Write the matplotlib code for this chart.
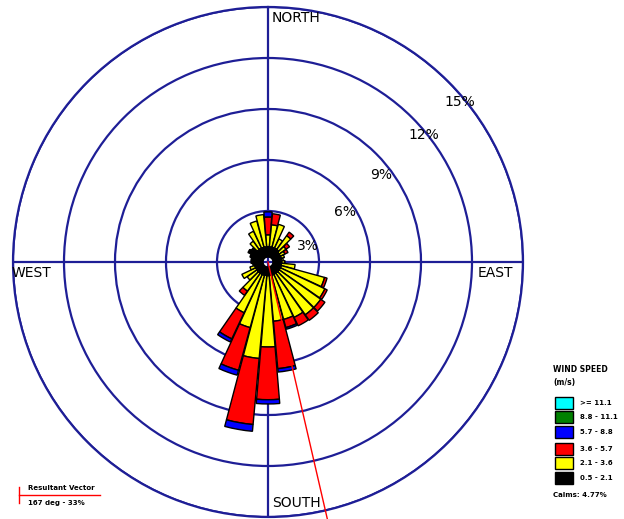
import numpy as np
import matplotlib
matplotlib.use("Agg")
import matplotlib.pyplot as plt
from matplotlib.patches import Rectangle
from matplotlib.lines import Line2D

# ---------------- data ----------------
directions = np.arange(0, 360, 10)  # degrees, wind blowing from
calm_radius = 0.3  # % (white calm hole in the middle)
calms_pct = 4.77
resultant_dir = 167
resultant_label = "167 deg - 33%"

# frequency (%) of each speed class per direction
f_05_21 = [0.6, 0.6, 0.6, 0.6, 0.6, 0.5, 0.5, 0.5, 0.5, 0.5, 0.5, 0.5,
           0.5, 0.5, 0.5, 0.5, 0.5, 0.5, 0.5, 0.5, 0.5, 0.5, 0.5, 0.5,
           0.5, 0.5, 0.6, 0.7, 0.7, 0.8, 1.0, 0.9, 0.6, 0.6, 0.6, 0.6]
f_21_36 = [0.7, 1.3, 1.4, 0.6, 1.0, 0.5, 0.3, 0.2, 0.1, 0.2, 0.8, 2.65,
           2.9, 3.0, 3.0, 2.8, 2.7, 2.7, 4.2, 4.9, 3.2, 2.5, 1.3, 0.7,
           0.9, 0.3, 0.0, 0.0, 0.0, 0.0, 0.0, 0.0, 0.6, 1.1, 1.6, 1.9]
f_36_57 = [1.05, 0.65, 0.0, 0.0, 0.25, 0.25, 0.2, 0.0, 0.0, 0.0, 0.0, 0.15,
           0.15, 0.3, 0.4, 0.55, 0.5, 2.8, 3.1, 3.9, 2.6, 1.7, 0.3, 0.0,
           0.0, 0.0, 0.0, 0.0, 0.0, 0.0, 0.0, 0.0, 0.0, 0.0, 0.0, 0.0]
f_57_88 = [0.3, 0.0, 0.0, 0.0, 0.0, 0.0, 0.0, 0.0, 0.0, 0.0, 0.0, 0.0,
           0.0, 0.0, 0.0, 0.0, 0.1, 0.2, 0.25, 0.4, 0.3, 0.2, 0.0, 0.0,
           0.0, 0.0, 0.0, 0.0, 0.0, 0.0, 0.0, 0.0, 0.0, 0.0, 0.0, 0.0]
f_88_111 = [0.0] * 36
f_ge_111 = [0.0] * 36

classes = [f_05_21, f_21_36, f_36_57, f_57_88, f_88_111, f_ge_111]
class_colors = ["#000000", "#ffff00", "#ff0000", "#0000ff", "#008000", "#00ffff"]
legend_labels = [">= 11.1", "8.8 - 11.1", "5.7 - 8.8",
                 "3.6 - 5.7", "2.1 - 3.6", "0.5 - 2.1"]
legend_colors = ["#00ffff", "#008000", "#0000ff", "#ff0000", "#ffff00", "#000000"]
ring_values = [3, 6, 9, 12, 15]
ring_labels = ["3%", "6%", "9%", "12%", "15%"]

# ---------------- figure ----------------
W, H = 624, 519
fig = plt.figure(figsize=(W / 100, H / 100), dpi=100)
cx, cy, R = 268, 262, 255
ax = fig.add_axes([(cx - R) / W, (H - cy - R) / H, 2 * R / W, 2 * R / H],
                  projection="polar")
ax.set_theta_zero_location("N")
ax.set_theta_direction(-1)
ax.set_rlim(0, 15)
ax.set_rticks(ring_values)
ax.set_yticklabels([])
ax.set_thetagrids([0, 90, 180, 270], labels=["", "", "", ""])
navy = "#1e1e96"
ax.grid(True, color=navy, lw=1.6)
ax.spines["polar"].set_color(navy)
ax.spines["polar"].set_linewidth(1.6)
ax.set_axisbelow(True)
ax.tick_params(length=0)

theta = np.deg2rad(directions)
width = np.deg2rad(9.5)
bottom = np.full(36, calm_radius)
for vals, col in zip(classes, class_colors):
    vals = np.asarray(vals)
    mask = vals > 0
    ax.bar(theta[mask], vals[mask], width=width, bottom=bottom[mask],
           color=col, edgecolor="black", linewidth=1.0, zorder=3)
    bottom = bottom + vals

# resultant vector
tr = np.deg2rad(resultant_dir)
ax.plot([tr, tr], [0, 15.5], color="red", lw=1.0, zorder=4, clip_on=False)

# ring labels
label_pos = [(68, 2.5), (57, 5.4), (52.4, 8.4), (50.8, 11.8), (50.2, 14.7)]
for (b, r), s in zip(label_pos, ring_labels):
    ax.text(np.deg2rad(b), r, s, ha="center", va="center", fontsize=10,
            color="black", zorder=5)

def fx(x):
    return x / W

def fy(y):
    return 1 - y / H

# compass labels
fig.text(fx(272), fy(18), "NORTH", fontsize=10, ha="left", va="center")
fig.text(fx(272), fy(503), "SOUTH", fontsize=10, ha="left", va="center")
fig.text(fx(12), fy(273), "WEST", fontsize=10, ha="left", va="center")
fig.text(fx(478), fy(273), "EAST", fontsize=10, ha="left", va="center")

# wind speed legend
fig.text(fx(553), fy(370), "WIND SPEED", fontsize=5.5, fontweight="bold",
         ha="left", va="center")
fig.text(fx(553), fy(382), "(m/s)", fontsize=5.5, fontweight="bold",
         ha="left", va="center")
box_tops = [397, 411, 426, 443, 457, 472]
for top, col, lab in zip(box_tops, legend_colors, legend_labels):
    fig.patches.append(Rectangle((fx(555), fy(top + 12)), 18 / W, 12 / H,
                                 transform=fig.transFigure, facecolor=col,
                                 edgecolor="black", lw=1.0))
    fig.text(fx(580), fy(top + 6), lab, fontsize=5, fontweight="bold",
             ha="left", va="center")
fig.text(fx(553), fy(495), f"Calms: {calms_pct:.2f}%", fontsize=5,
         fontweight="bold", ha="left", va="center")

# resultant vector legend
fig.lines.append(Line2D([fx(19), fx(100)], [fy(495), fy(495)],
                        transform=fig.transFigure, color="red", lw=1.0))
fig.lines.append(Line2D([fx(19), fx(19)], [fy(487), fy(503)],
                        transform=fig.transFigure, color="red", lw=1.0))
fig.text(fx(28), fy(488), "Resultant Vector", fontsize=5, fontweight="bold",
         ha="left", va="center")
fig.text(fx(28), fy(503), resultant_label, fontsize=5, fontweight="bold",
         ha="left", va="center")

fig.savefig("out.png", dpi=100, facecolor="white")
